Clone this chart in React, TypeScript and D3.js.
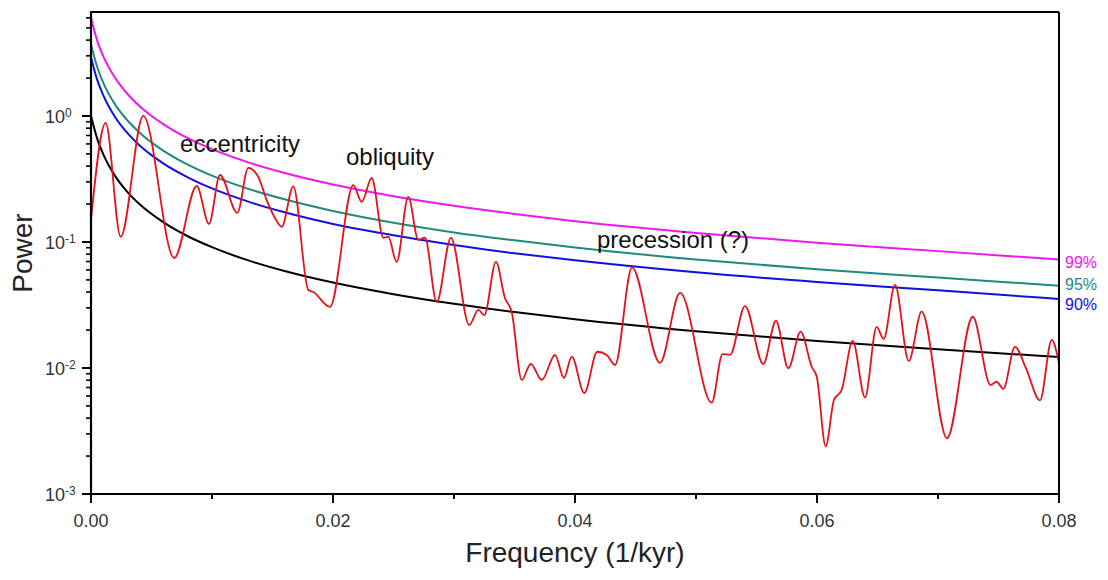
import React from 'react';
import * as d3 from 'd3';

// ---- data ----
const redFreq = [0, 0.00121, 0.00245, 0.00432, 0.00688, 0.00874, 0.00975, 0.01066, 0.01209, 0.013, 0.01383, 0.01452, 0.01521, 0.01576, 0.01672, 0.01796, 0.01837, 0.01975, 0.02168, 0.02237, 0.0232, 0.02416, 0.02457, 0.02526, 0.02622, 0.02705, 0.0276, 0.02857, 0.02975, 0.03126, 0.03201, 0.0325, 0.03347, 0.03421, 0.03477, 0.0356, 0.03634, 0.03725, 0.03835, 0.03909, 0.03973, 0.04077, 0.04184, 0.04262, 0.04331, 0.04471, 0.04702, 0.04868, 0.0513, 0.05219, 0.05281, 0.05405, 0.05556, 0.05661, 0.05763, 0.05865, 0.05956, 0.05998, 0.06072, 0.0614, 0.06204, 0.06295, 0.06397, 0.06493, 0.06551, 0.06645, 0.06758, 0.06865, 0.07074, 0.07287, 0.07434, 0.07483, 0.0754, 0.07636, 0.07727, 0.07843, 0.0794, 0.08];
const redPower = [0.15, 0.88, 0.11, 1.0, 0.0746, 0.278, 0.139, 0.34, 0.17, 0.387, 0.328, 0.215, 0.155, 0.132, 0.276, 0.0416, 0.0401, 0.0305, 0.283, 0.208, 0.322, 0.108, 0.11, 0.0694, 0.228, 0.104, 0.108, 0.0334, 0.108, 0.0219, 0.0289, 0.0263, 0.0694, 0.0359, 0.0278, 0.00803, 0.01076, 0.00803, 0.01268, 0.00833, 0.0123, 0.00633, 0.01346, 0.01268, 0.01056, 0.0628, 0.01096, 0.0394, 0.00532, 0.0129, 0.0127, 0.031, 0.01076, 0.0237, 0.00995, 0.0194, 0.01023, 0.00853, 0.00239, 0.00557, 0.00669, 0.0164, 0.00585, 0.0212, 0.017, 0.0456, 0.01137, 0.028, 0.00277, 0.0255, 0.00733, 0.00778, 0.00684, 0.0147, 0.00995, 0.00554, 0.0167, 0.01086];

const levelFreq = [0, 0.0005, 0.001, 0.002, 0.003, 0.004, 0.006, 0.008, 0.01, 0.013, 0.016, 0.02, 0.025, 0.03, 0.035, 0.04, 0.05, 0.06, 0.07, 0.08];
const levelMean = [1.0, 0.667, 0.5, 0.333, 0.25, 0.2, 0.143, 0.111, 0.0909, 0.0714, 0.0588, 0.0476, 0.0385, 0.0323, 0.0278, 0.0244, 0.0196, 0.0164, 0.0141, 0.0122];
const level90 = [2.93, 1.95, 1.47, 0.977, 0.733, 0.586, 0.419, 0.326, 0.266, 0.209, 0.172, 0.139, 0.113, 0.0946, 0.0814, 0.0715, 0.0574, 0.0481, 0.0413, 0.0353];
const level95 = [3.7, 2.47, 1.85, 1.23, 0.925, 0.74, 0.529, 0.411, 0.336, 0.264, 0.218, 0.176, 0.142, 0.119, 0.103, 0.0903, 0.0725, 0.0607, 0.0522, 0.0449];
const level99 = [6.0, 4.0, 3.0, 2.0, 1.5, 1.2, 0.858, 0.666, 0.545, 0.428, 0.353, 0.286, 0.231, 0.194, 0.167, 0.146, 0.118, 0.0984, 0.0846, 0.0725];

const levelNames = ['99%', '95%', '90%'];
const xTicks = [0, 0.02, 0.04, 0.06, 0.08];
const xMinorTicks = [0.01, 0.03, 0.05, 0.07];
const yTickExponents = [-3, -2, -1, 0];

const annotationTexts = ['eccentricity', 'obliquity', 'precession (?)'];
const annotationFreq = [0.00736, 0.02107, 0.04182];
const annotationPower = [0.518, 0.408, 0.0896];

// ---- layout ----
const W = 1108;
const H = 580;
const M = { left: 91, right: 49, top: 12, bottom: 86 };
const FONT = 'Arial, "Liberation Sans", Helvetica, sans-serif';

const COLORS = {
  red: '#e3121b',
  mean: '#000000',
  l90: '#1010e0',
  l95: '#1f8a7e',
  l99: '#f016f0',
};

export default function App() {
  const x = d3.scaleLinear().domain([0, 0.08]).range([M.left, W - M.right]);
  const y = d3.scaleLog().domain([1e-3, Math.pow(10, 0.825)]).range([H - M.bottom, M.top]);

  const line = d3
    .line<[number, number]>()
    .x((d) => x(d[0]))
    .y((d) => y(d[1]))
    .curve(d3.curveMonotoneX);

  const redData: [number, number][] = redFreq.map((f, i) => [f, redPower[i]]);
  const mk = (arr: number[]) => levelFreq.map((f, i) => [f, arr[i]] as [number, number]);
  const levels = [
    { data: mk(level99), color: COLORS.l99, name: levelNames[0] },
    { data: mk(level95), color: COLORS.l95, name: levelNames[1] },
    { data: mk(level90), color: COLORS.l90, name: levelNames[2] },
  ];

  const x0 = x(0);
  const x1 = x(0.08);
  const yB = y(1e-3);
  const yT = M.top;

  // minor y ticks
  const yMinor: number[] = [];
  for (const e of yTickExponents) {
    for (let k = 2; k <= 9; k++) {
      const v = k * Math.pow(10, e);
      if (v <= y.domain()[1]) yMinor.push(v);
    }
  }

  const labelOffsets = [2, -2, 5];

  return (
    <svg
      width={W}
      height={H}
      style={{ position: 'absolute', left: 0, top: 0, display: 'block', background: '#fff' }}
      fontFamily={FONT}
    >
      <rect x={0} y={0} width={W} height={H} fill="#fff" />

      {/* curves */}
      <path d={line(mk(levelMean)) || ''} fill="none" stroke={COLORS.mean} strokeWidth={2} />
      {levels.map((l) => (
        <path key={l.name} d={line(l.data) || ''} fill="none" stroke={l.color} strokeWidth={2} />
      ))}
      <path d={line(redData) || ''} fill="none" stroke={COLORS.red} strokeWidth={1.8} />

      {/* frame */}
      <line x1={x0} y1={yT} x2={x1} y2={yT} stroke="#000" strokeWidth={2} />
      <line x1={x1} y1={yT} x2={x1} y2={yB} stroke="#000" strokeWidth={2} />
      <line x1={x0} y1={yB} x2={x1 + 1} y2={yB} stroke="#000" strokeWidth={2.2} />
      <line x1={x0} y1={yT - 1} x2={x0} y2={yB + 1} stroke="#000" strokeWidth={2.2} />

      {/* x ticks */}
      {xTicks.map((t) => (
        <g key={'xt' + t}>
          <line x1={x(t)} x2={x(t)} y1={yB} y2={yB + 9} stroke="#000" strokeWidth={2} />
          <text x={x(t)} y={yB + 33} textAnchor="middle" fontSize={18} fill="#333">
            {t.toFixed(2)}
          </text>
        </g>
      ))}
      {xMinorTicks.map((t) => (
        <line key={'xm' + t} x1={x(t)} x2={x(t)} y1={yB} y2={yB + 5} stroke="#000" strokeWidth={2} />
      ))}

      {/* y ticks */}
      {yTickExponents.map((e) => {
        const yy = y(Math.pow(10, e));
        return (
          <g key={'yt' + e}>
            <line x1={x0 - 9} x2={x0} y1={yy} y2={yy} stroke="#000" strokeWidth={2} />
            <text x={x0 - 26} y={yy + 7} textAnchor="end" fontSize={18} fill="#333">
              10
            </text>
            <text x={x0 - 26} y={yy + 1} textAnchor="start" fontSize={12} fill="#333">
              {e}
            </text>
          </g>
        );
      })}
      {yMinor.map((v, i) => (
        <line key={'ym' + i} x1={x0 - 5} x2={x0} y1={y(v)} y2={y(v)} stroke="#000" strokeWidth={1.6} />
      ))}

      {/* level labels */}
      {levels.map((l, i) => (
        <text
          key={'ll' + l.name}
          x={x1 + 6}
          y={y(l.data[l.data.length - 1][1]) + 6 + labelOffsets[i]}
          fontSize={16}
          fill={l.color}
        >
          {l.name}
        </text>
      ))}

      {/* annotations */}
      {annotationTexts.map((t, i) => (
        <text key={t} x={x(annotationFreq[i])} y={y(annotationPower[i])} fontSize={24} fill="#111">
          {t}
        </text>
      ))}

      {/* axis titles */}
      <text x={(x0 + x1) / 2} y={H - 18} textAnchor="middle" fontSize={28} fill="#222">
        Frequency (1/kyr)
      </text>
      <text
        transform={`translate(32, ${(yT + yB) / 2}) rotate(-90)`}
        textAnchor="middle"
        fontSize={28}
        fill="#222"
      >
        Power
      </text>
    </svg>
  );
}
